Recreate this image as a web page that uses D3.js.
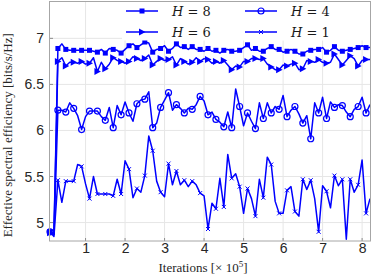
<!DOCTYPE html>
<html>
<head>
<meta charset="utf-8">
<script src="https://cdn.jsdelivr.net/npm/d3@7"></script>
<style>
  body { margin: 0; background: #fff; }
  svg { display: block; }
</style>
</head>
<body>
<svg id="chart" width="374" height="276"></svg>
<script>
// iterations in units of 1e5, one sample every 0.1
let iterations = d3.range(1, 83).map((i) => i / 10);

let h8 = [4.90, 4.88, 6.89, 6.94, 6.88, 6.87, 6.87, 6.87, 6.87, 6.87, 6.87, 6.86, 6.85, 6.88, 6.84, 6.89, 6.88, 6.87, 6.84, 6.88,
  6.92, 6.94, 6.90, 6.93, 6.96, 6.95, 6.85, 6.88, 6.89, 6.92, 6.86, 6.89, 6.94, 6.90, 6.91, 6.88, 6.91, 6.88, 6.88, 6.86,
  6.89, 6.86, 6.87, 6.84, 6.87, 6.88, 6.86, 6.86, 6.87, 6.90, 6.93, 6.87, 6.89, 6.86, 6.86, 6.89, 6.91, 6.88, 6.88, 6.85,
  6.86, 6.88, 6.86, 6.83, 6.83, 6.86, 6.87, 6.88, 6.88, 6.90, 6.85, 6.87, 6.91, 6.87, 6.86, 6.87, 6.88, 6.89, 6.90, 6.92,
  6.90, 6.90];
let h6 = [4.89, 4.87, 6.75, 6.79, 6.70, 6.74, 6.74, 6.73, 6.75, 6.72, 6.73, 6.79, 6.64, 6.74, 6.67, 6.72, 6.79, 6.76, 6.75, 6.73,
  6.75, 6.80, 6.78, 6.76, 6.78, 6.82, 6.71, 6.75, 6.78, 6.76, 6.77, 6.80, 6.71, 6.78, 6.75, 6.72, 6.74, 6.79, 6.75, 6.78,
  6.77, 6.73, 6.75, 6.73, 6.76, 6.71, 6.66, 6.70, 6.69, 6.75, 6.75, 6.78, 6.78, 6.77, 6.78, 6.72, 6.69, 6.66, 6.66, 6.71,
  6.70, 6.72, 6.73, 6.66, 6.67, 6.76, 6.75, 6.74, 6.77, 6.74, 6.73, 6.74, 6.83, 6.77, 6.71, 6.76, 6.81, 6.78, 6.70, 6.76,
  6.77, 6.77];
let h4 = [4.90, 4.87, 6.22, 6.22, 6.20, 6.30, 6.24, 6.16, 6.01, 6.15, 6.21, 6.21, 6.21, 6.15, 6.11, 6.25, 6.03, 6.27, 6.17, 6.31,
  6.19, 6.10, 6.29, 6.33, 6.34, 6.42, 6.03, 6.08, 6.25, 6.33, 6.41, 6.22, 6.28, 6.24, 6.19, 6.24, 6.23, 6.28, 6.37, 6.32,
  6.17, 6.20, 6.12, 6.09, 6.04, 6.20, 6.03, 6.45, 6.26, 6.05, 6.19, 6.10, 6.02, 6.30, 6.13, 6.30, 6.19, 6.26, 6.23, 6.38,
  6.15, 6.22, 6.26, 6.18, 6.08, 6.16, 5.91, 6.30, 6.19, 6.36, 6.13, 6.31, 6.25, 6.28, 6.27, 6.20, 6.15, 6.23, 6.26, 6.36,
  6.19, 6.28];
let h1 = [4.90, 4.85, 5.46, 5.22, 5.45, 5.45, 5.45, 5.63, 5.61, 5.42, 5.26, 5.50, 5.31, 5.31, 5.31, 5.31, 5.29, 5.47, 5.31, 5.67,
  5.58, 5.27, 5.37, 5.33, 5.51, 5.94, 5.78, 5.45, 5.33, 5.28, 5.64, 5.41, 5.56, 5.41, 5.46, 5.39, 5.45, 5.41, 5.32, 5.29,
  4.93, 5.21, 5.15, 5.48, 5.17, 5.74, 5.48, 5.53, 5.39, 5.10, 5.37, 5.26, 5.07, 5.47, 5.27, 5.71, 5.63, 5.23, 5.10, 5.10,
  5.35, 5.39, 5.12, 5.07, 5.47, 5.36, 5.46, 5.26, 4.90, 5.40, 5.34, 5.16, 5.51, 5.40, 5.47, 4.82, 5.47, 5.33, 5.41, 5.68,
  5.10, 5.26];

let xTicks = [1, 2, 3, 4, 5, 6, 7, 8];
let yTicks = [5, 5.5, 6, 6.5, 7];

let series = [
  { name: "8", values: h8, marker: "square" },
  { name: "6", values: h6, marker: "triangle" },
  { name: "4", values: h4, marker: "circle" },
  { name: "1", values: h1, marker: "cross" },
];
// legend order is column-wise like matlab
let legendOrder = ["8", "6", "4", "1"];

let blue = "#0000ff";
let plotL = 50, plotR = 370, plotT = 1.5, plotB = 241;

let x = d3.scaleLinear().domain([0.1, 8.2]).range([plotL, plotR]);
let y = d3.scaleLinear().domain([4.8, 7.4]).range([plotB, plotT]);

let svg = d3.select("#chart");

// grid
svg.append("g")
  .selectAll("line")
  .data(xTicks)
  .join("line")
  .attr("x1", (d) => x(d)).attr("x2", (d) => x(d))
  .attr("y1", plotT).attr("y2", plotB)
  .attr("stroke", "#e6e6e6").attr("stroke-width", 1);
svg.append("g")
  .selectAll("line")
  .data(yTicks)
  .join("line")
  .attr("y1", (d) => y(d)).attr("y2", (d) => y(d))
  .attr("x1", plotL).attr("x2", plotR)
  .attr("stroke", "#e6e6e6").attr("stroke-width", 1);

// axes
let xAxis = d3.axisBottom(x).tickValues(xTicks).tickSize(0).tickPadding(2).tickFormat(d3.format("d"));
let yAxis = d3.axisLeft(y).tickValues(yTicks).tickSize(0).tickPadding(6).tickFormat((d) => d3.format("")(d));

svg.append("g").attr("transform", `translate(0,${plotB})`).call(xAxis)
  .call((g) => g.select(".domain").remove())
  .selectAll("text").attr("font-family", "Liberation Sans, Arial, sans-serif").attr("font-size", 14).attr("fill", "#262626");
svg.append("g").attr("transform", `translate(${plotL},0)`).call(yAxis)
  .call((g) => g.select(".domain").remove())
  .selectAll("text").attr("font-family", "Liberation Sans, Arial, sans-serif").attr("font-size", 14).attr("fill", "#262626");

// small inner ticks like matlab
svg.append("g").selectAll("line").data(xTicks).join("line")
  .attr("x1", (d) => x(d)).attr("x2", (d) => x(d))
  .attr("y1", plotB).attr("y2", plotB - 3)
  .attr("stroke", "#8c8c8c");
svg.append("g").selectAll("line").data(yTicks).join("line")
  .attr("y1", (d) => y(d)).attr("y2", (d) => y(d))
  .attr("x1", plotL).attr("x2", plotL + 3)
  .attr("stroke", "#8c8c8c");

let line = d3.line()
  .x((d, i) => x(iterations[i]))
  .y((d) => y(d));

let drawMarker = (g, type, cx, cy) => {
  if (type == "square") {
    g.append("rect").attr("x", cx - 2.5).attr("y", cy - 2.5).attr("width", 5).attr("height", 5).attr("fill", blue);
  } else if (type == "triangle") {
    g.append("path").attr("d", `M${cx - 3},${cy - 3.5}L${cx + 3.5},${cy}L${cx - 3},${cy + 3.5}Z`).attr("fill", blue);
  } else if (type == "circle") {
    g.append("circle").attr("cx", cx).attr("cy", cy).attr("r", 3).attr("fill", "none").attr("stroke", blue).attr("stroke-width", 1.2);
  } else {
    g.append("path").attr("d", `M${cx - 2},${cy - 2}L${cx + 2},${cy + 2}M${cx - 2},${cy + 2}L${cx + 2},${cy - 2}`)
      .attr("stroke", blue).attr("stroke-width", 1);
  }
};

let plot = svg.append("g");
series.forEach((s) => {
  plot.append("path")
    .datum(s.values)
    .attr("d", line)
    .attr("fill", "none")
    .attr("stroke", blue)
    .attr("stroke-width", 1.5)
    .attr("stroke-linejoin", "round");
  let mg = plot.append("g");
  s.values.forEach((v, i) => {
    if (i % 2 == 0) drawMarker(mg, s.marker, x(iterations[i]), y(v));
  });
});

// legend box
let legend = svg.append("g");
legend.append("rect")
  .attr("x", 122).attr("y", plotT).attr("width", plotR - 122).attr("height", 39)
  .attr("fill", "#fff");
let legendPos = [
  { lx: 126, ly: 11 },
  { lx: 126, ly: 32 },
  { lx: 245, ly: 11 },
  { lx: 245, ly: 32 },
];
legendOrder.forEach((name, k) => {
  let s = series.find((d) => d.name == name);
  let p = legendPos[k];
  legend.append("line")
    .attr("x1", p.lx).attr("x2", p.lx + 32)
    .attr("y1", p.ly).attr("y2", p.ly)
    .attr("stroke", blue).attr("stroke-width", 1.5);
  drawMarker(legend, s.marker, p.lx + 16, p.ly);
  let t = legend.append("text")
    .attr("x", p.lx + 46).attr("y", p.ly + 5)
    .attr("font-family", "DejaVu Serif, serif").attr("font-size", 13).attr("fill", "#1a1a1a");
  t.append("tspan").attr("font-style", "italic").text("H");
  t.append("tspan").text(" = " + name);
});

// axes box
svg.append("rect")
  .attr("x", plotL - 0.5).attr("y", plotT).attr("width", plotR - plotL + 1).attr("height", plotB - plotT)
  .attr("fill", "none").attr("stroke", "#a6a6a6").attr("stroke-width", 1);

// axis labels
let xl = svg.append("text")
  .attr("x", (plotL + plotR) / 2 - 7).attr("y", 272)
  .attr("text-anchor", "middle")
  .attr("font-family", "Liberation Serif, Times New Roman, serif").attr("font-size", 13).attr("fill", "#262626");
xl.append("tspan").text("Iterations [\u00d7 10");
xl.append("tspan").attr("dy", -5).attr("font-size", 9).text("5");
xl.append("tspan").attr("dy", 5).text("]");

svg.append("text")
  .attr("transform", `translate(12,${(plotT + plotB) / 2 + 14}) rotate(-90)`)
  .attr("text-anchor", "middle")
  .attr("font-family", "Liberation Serif, Times New Roman, serif").attr("font-size", 13).attr("fill", "#262626")
  .text("Effective spectral efficiency [bits/s/Hz]");
</script>
</body>
</html>
